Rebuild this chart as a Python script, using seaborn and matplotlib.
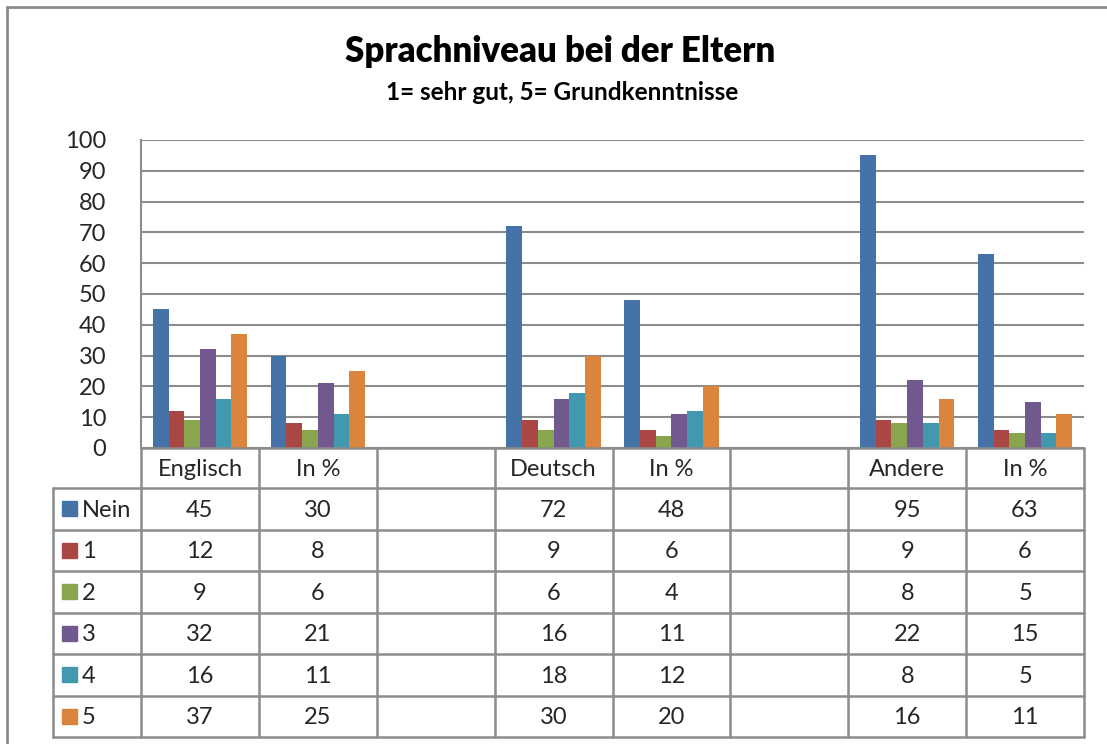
import matplotlib
matplotlib.use("Agg")
import matplotlib.pyplot as plt
import seaborn as sns
import pandas as pd
from matplotlib.lines import Line2D
from matplotlib.patches import Rectangle

# ---------------- data ----------------
cat_keys = ["Englisch", "In % (E)", "gap1", "Deutsch", "In % (D)", "gap2", "Andere", "In % (A)"]
cat_labels = ["Englisch", "In %", "", "Deutsch", "In %", "", "Andere", "In %"]
data_cats = ["Englisch", "In % (E)", "Deutsch", "In % (D)", "Andere", "In % (A)"]
series = ["Nein", "1", "2", "3", "4", "5"]
nein = [45, 30, 72, 48, 95, 63]
s1 = [12, 8, 9, 6, 9, 6]
s2 = [9, 6, 6, 4, 8, 5]
s3 = [32, 21, 16, 11, 22, 15]
s4 = [16, 11, 18, 12, 8, 5]
s5 = [37, 25, 30, 20, 16, 11]
values = [nein, s1, s2, s3, s4, s5]
colors = ["#4572A7", "#AA4643", "#89A54E", "#71588F", "#4198AF", "#DB843D"]
title = "Sprachniveau bei der Eltern"
subtitle = "1= sehr gut, 5= Grundkenntnisse"
yticks = list(range(0, 101, 10))

rows = []
for s, vals in zip(series, values):
    for c, v in zip(data_cats, vals):
        rows.append({"cat": c, "series": s, "val": v})
df = pd.DataFrame(rows)

# ---------------- figure ----------------
sns.set_style("white")
plt.rcParams["font.family"] = ["Lato", "DejaVu Sans"]
W, H = 1107, 744
fs = 17
fig = plt.figure(figsize=(W / 100, H / 100), dpi=100)

px_l, px_r, px_t, px_b = 141, 1084, 140, 448
ax = fig.add_axes([px_l / W, 1 - px_b / H, (px_r - px_l) / W, (px_b - px_t) / H])
sns.barplot(data=df, x="cat", y="val", hue="series", order=cat_keys,
            hue_order=series, palette=colors, saturation=1, ax=ax,
            legend=False, width=0.8, edgecolor="none")
ax.set_xlim(-0.5, len(cat_keys) - 0.5)
ax.set_ylim(0, 100)
ax.set_yticks(yticks)
ax.set_yticklabels([str(t) for t in yticks], fontsize=fs)
ax.tick_params(axis="y", length=0, pad=25)
ax.set_xticks([])
ax.set_xlabel("")
ax.set_ylabel("")
ax.yaxis.grid(True, color="#8c8c8c", linewidth=1.5)
ax.set_axisbelow(True)
for sp in ["top", "right", "bottom"]:
    ax.spines[sp].set_visible(False)
ax.spines["left"].set_color("#8c8c8c")
ax.spines["left"].set_linewidth(1.5)

# ---------------- overlay for table / frame ----------------
ov = fig.add_axes([0, 0, 1, 1], zorder=5)
ov.set_xlim(0, W)
ov.set_ylim(H, 0)
ov.axis("off")
ov.patch.set_alpha(0)

lc = "#8c8c8c"
lw = 1.8
# outer chart frame
ov.add_line(Line2D([7, 7], [7, H + 5], color=lc, lw=2))
ov.add_line(Line2D([7, W + 5], [7, 7], color=lc, lw=2))

# titles
ov.text(560, 52, title, ha="center", va="center", fontsize=25, fontweight="heavy", color="black")
ov.text(562, 92, subtitle, ha="center", va="center", fontsize=17.5, fontweight="bold", color="black")

ncat = len(cat_keys)
cw = (px_r - px_l) / ncat
xs = [px_l + i * cw for i in range(ncat + 1)]
row_top = 488
rh = (737 - 488) / len(series)
row_ys = [row_top + i * rh for i in range(len(series) + 1)]
leg_l = 53

# header row
ov.add_line(Line2D([px_l, px_r], [px_b, px_b], color=lc, lw=lw))
for x in xs:
    ov.add_line(Line2D([x, x], [px_b, row_ys[-1]], color=lc, lw=lw))
ov.add_line(Line2D([leg_l, leg_l], [row_top, row_ys[-1]], color=lc, lw=lw))
for y in row_ys:
    ov.add_line(Line2D([leg_l, px_r], [y, y], color=lc, lw=lw))

for i, lab in enumerate(cat_labels):
    ov.text(xs[i] + cw / 2, (px_b + row_top) / 2 + 1, lab, ha="center", va="center", fontsize=fs)

for r, (s, vals, col) in enumerate(zip(series, values, colors)):
    yc = (row_ys[r] + row_ys[r + 1]) / 2
    ov.add_patch(Rectangle((62, yc - 7.5), 15, 15, color=col))
    ov.text(82, yc + 1.5, s, ha="left", va="center", fontsize=fs)
    for c, v in zip(data_cats, vals):
        i = cat_keys.index(c)
        ov.text(xs[i] + cw / 2, yc + 1.5, str(v), ha="center", va="center", fontsize=fs)

fig.savefig("out.png", dpi=100)
